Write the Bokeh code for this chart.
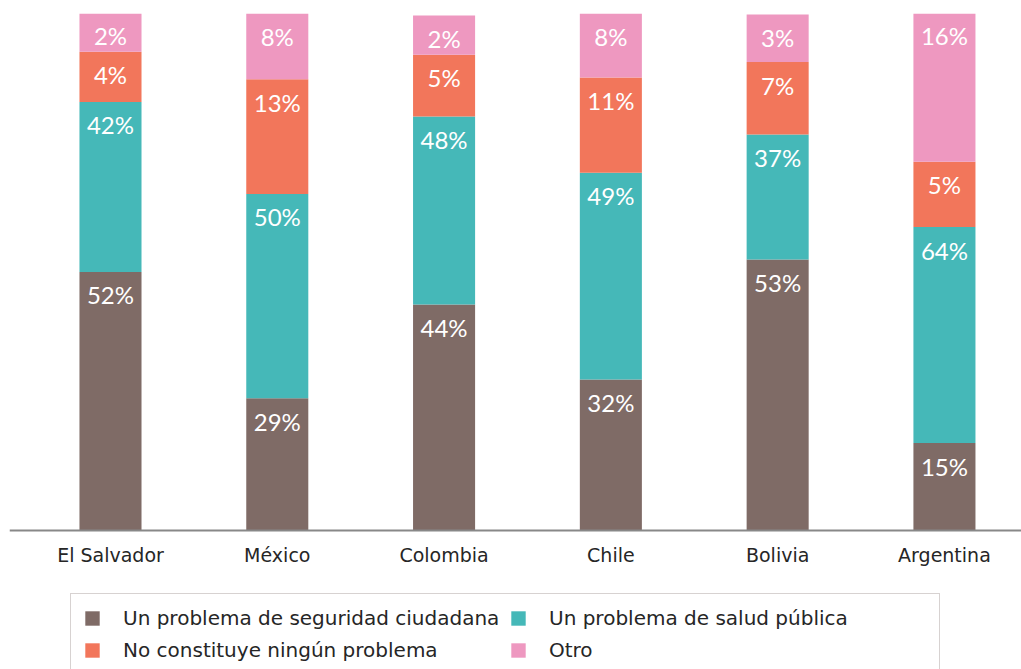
from bokeh.plotting import figure
from bokeh.models import ColumnDataSource, Range1d, FixedTicker, Legend, LegendItem
from bokeh.core.properties import value
from bokeh.embed import file_html
from bokeh.resources import INLINE

countries = ["El Salvador", "México", "Colombia", "Chile", "Bolivia", "Argentina"]

# segment heights as drawn in the picture (share of bar height, %)
seguridad = [50.0, 25.6, 43.7, 29.2, 52.4, 16.9]
salud = [32.9, 39.5, 36.4, 40.0, 24.2, 41.8]
ninguno = [9.7, 22.2, 11.9, 18.4, 14.0, 12.6]
otro = [7.5, 12.7, 7.6, 12.4, 9.2, 28.8]

# printed labels
seguridad_lbl = [52, 29, 44, 32, 53, 15]
salud_lbl = [42, 50, 48, 49, 37, 64]
ninguno_lbl = [4, 13, 5, 11, 7, 5]
otro_lbl = [2, 8, 2, 8, 3, 16]

series_names = ["Un problema de seguridad ciudadana", "Un problema de salud pública",
                "No constituye ningún problema", "Otro"]
colors = ["#7f6b66", "#45b8b8", "#f2765b", "#ee98c0"]

xs = list(range(len(countries)))
src = ColumnDataSource(dict(x=xs, seguridad=seguridad, salud=salud, ninguno=ninguno, otro=otro))

p = figure(frame_width=1012, frame_height=656, output_backend="svg", toolbar_location=None,
           x_range=Range1d(-0.6055, 5.462), y_range=Range1d(-26.89, 100),
           min_border_left=9, min_border_right=0, min_border_top=13, min_border_bottom=0)
p.outline_line_color = None
p.grid.visible = False
p.yaxis.visible = False

keys = ["seguridad", "salud", "ninguno", "otro"]
renderers = p.vbar_stack(keys, x="x", width=0.372, color=colors, line_color=None, source=src)

lab_x, lab_y, lab_t = [], [], []
heights = [seguridad, salud, ninguno, otro]
labels = [seguridad_lbl, salud_lbl, ninguno_lbl, otro_lbl]
for i in xs:
    cum = 0
    for h, l in zip(heights, labels):
        cum += h[i]
        lab_x.append(i)
        lab_y.append(cum)
        lab_t.append(f"{l[i]}%")
lsrc = ColumnDataSource(dict(x=lab_x, y=lab_y, t=lab_t))
p.text(x="x", y="y", text="t", source=lsrc, text_align="center", text_baseline="middle",
       y_offset=23, text_color="white", text_font=value("Lato"), text_font_size="24px")

ax = p.xaxis[0]
ax.fixed_location = 0
ax.ticker = FixedTicker(ticks=xs)
ax.major_label_overrides = {i: c for i, c in enumerate(countries)}
ax.major_tick_line_color = None
ax.minor_tick_line_color = None
ax.axis_line_color = "#888888"
ax.axis_line_width = 2
ax.major_label_standoff = 8
ax.major_label_text_font = "DejaVu Sans"
ax.major_label_text_font_size = "19px"
ax.major_label_text_color = "#262626"

order = [0, 2, 1, 3]
items = [LegendItem(label=series_names[k], renderers=[renderers[k]]) for k in order]
legend = Legend(items=items, location=(61, -6), orientation="vertical", ncols=2,
                label_text_font="DejaVu Sans", label_text_font_size="20px",
                label_text_color="#262626", glyph_width=18, glyph_height=18,
                label_standoff=22, label_width=378, spacing=8, padding=12,
                border_line_color="#b0a5a3", border_line_width=1.5,
                background_fill_alpha=0, margin=0)
p.add_layout(legend, "center")

open("out.html", "w").write(file_html(p, INLINE))
